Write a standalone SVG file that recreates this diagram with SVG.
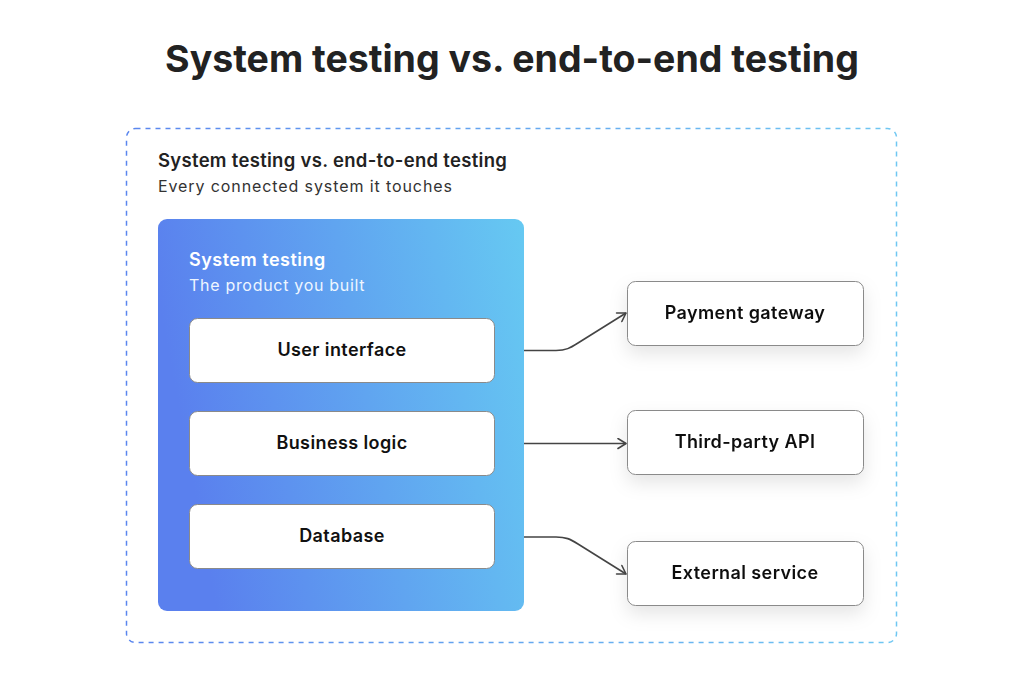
<svg xmlns="http://www.w3.org/2000/svg" width="1024" height="700" viewBox="0 0 1024 700">
<defs>
<linearGradient id="outerG" x1="0" y1="0" x2="1" y2="0">
<stop offset="0" stop-color="#5a86ee"/><stop offset="1" stop-color="#6fc7f2"/>
</linearGradient>
<linearGradient id="panelG" x1="0" y1="0.2" x2="1" y2="0">
<stop offset="0" stop-color="#5a80ee"/><stop offset="1" stop-color="#66c9f2"/>
</linearGradient>
<filter id="sh" x="-20%" y="-30%" width="140%" height="180%">
<feDropShadow dx="0" dy="8" stdDeviation="9" flood-color="#000" flood-opacity="0.10"/>
</filter>
<marker id="arr" markerWidth="12" markerHeight="12" refX="10" refY="6" orient="auto" markerUnits="userSpaceOnUse">
<path d="M2,1 L10,6 L2,11" fill="none" stroke="#444" stroke-width="1.6" stroke-linecap="round" stroke-linejoin="round"/>
</marker>
<style>
.t{font-family:"Inter","Open Sans","Liberation Sans",sans-serif;}
.box{fill:#fff;stroke:#8a8a8a;stroke-width:1;}
.lbl{font-family:"Inter","Open Sans","Liberation Sans",sans-serif;font-size:18px;font-weight:600;fill:#111;text-anchor:middle;letter-spacing:0.4px;}
.con{fill:none;stroke:#444;stroke-width:1.6;marker-end:url(#arr);}
</style>
</defs>
<rect width="1024" height="700" fill="#fff"/>
<text class="t" x="512" y="72" font-size="37.5" font-weight="700" fill="#222" text-anchor="middle">System testing vs. end-to-end testing</text>
<g id="outer">
<rect x="126.5" y="128.5" width="770" height="514" rx="9" fill="none" stroke="url(#outerG)" stroke-width="1.5" stroke-dasharray="5 5"/>
<text class="t" x="158" y="167" font-size="18.5" font-weight="600" fill="#222" letter-spacing="0.3">System testing vs. end-to-end testing</text>
<text class="t" x="158" y="192" font-size="16" fill="#333" letter-spacing="0.9">Every connected system it touches</text>
</g>
<g id="system-testing">
<rect x="158" y="219" width="366" height="392" rx="9" fill="url(#panelG)"/>
<text class="t" x="189" y="266" font-size="18" font-weight="600" fill="#fff" letter-spacing="0.5">System testing</text>
<text class="t" x="189" y="291" font-size="16" fill="#eef6ff" letter-spacing="0.7">The product you built</text>
</g>
<g id="user-interface">
<rect class="box" x="189.5" y="318.5" width="305" height="64" rx="8"/>
<text class="lbl" x="342" y="356">User interface</text>
</g>
<g id="business-logic">
<rect class="box" x="189.5" y="411.5" width="305" height="64" rx="8"/>
<text class="lbl" x="342" y="449">Business logic</text>
</g>
<g id="database">
<rect class="box" x="189.5" y="504.5" width="305" height="64" rx="8"/>
<text class="lbl" x="342" y="542">Database</text>
</g>
<g id="payment-gateway" filter="url(#sh)">
<rect class="box" x="627.5" y="281.5" width="236" height="64" rx="8"/>
<text class="lbl" x="745" y="319">Payment gateway</text>
</g>
<g id="third-party-api" filter="url(#sh)">
<rect class="box" x="627.5" y="410.5" width="236" height="64" rx="8"/>
<text class="lbl" x="745" y="448">Third-party API</text>
</g>
<g id="external-service" filter="url(#sh)">
<rect class="box" x="627.5" y="541.5" width="236" height="64" rx="8"/>
<text class="lbl" x="745" y="579">External service</text>
</g>
<g id="connectors">
<path class="con" d="M524,350.5 L556,350.5 C566,350.5 570,348 578,343 L626,313"/>
<path class="con" d="M524,443.5 L626,443.5"/>
<path class="con" d="M524,537 L556,537 C566,537 570,539 578,544 L626,574"/>
</g>
</svg>
